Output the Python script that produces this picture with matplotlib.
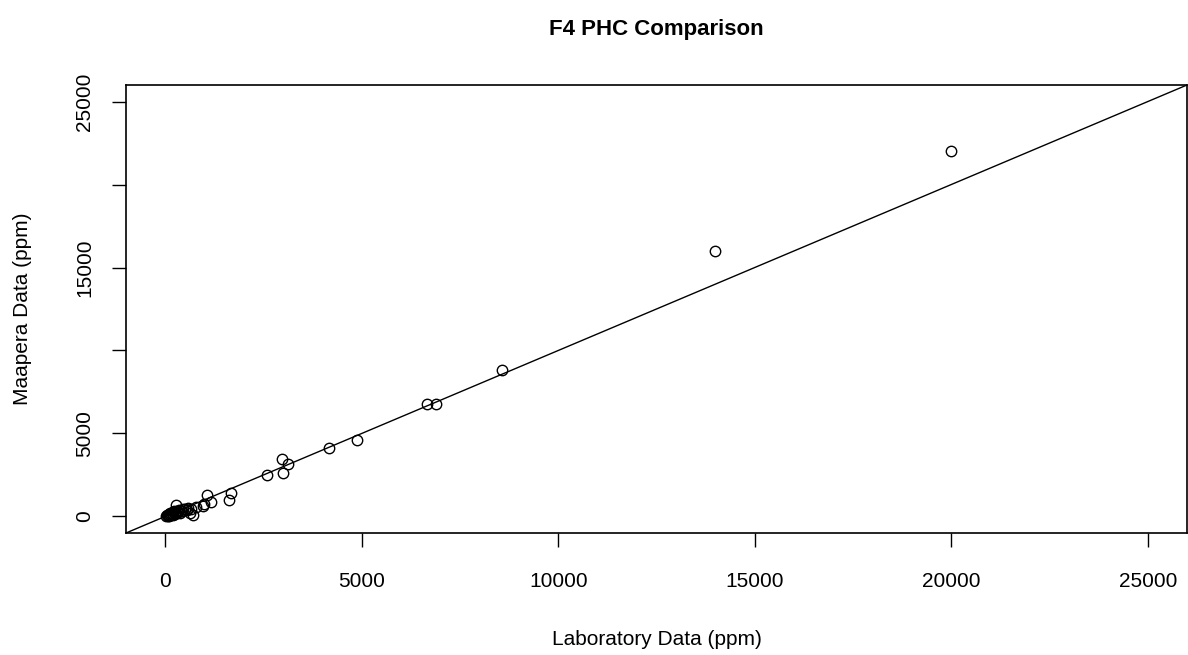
import matplotlib
matplotlib.use("Agg")
import matplotlib.pyplot as plt

plt.rcParams['font.family'] = ['Liberation Sans', 'DejaVu Sans']

title = "F4 PHC Comparison"
xlabel = "Laboratory Data (ppm)"
ylabel = "Maapera Data (ppm)"

lab = [30, 50, 60, 80, 90, 100, 120, 130, 150, 170, 190, 200, 220, 250, 260,
       280, 300, 320, 350, 380, 400, 430, 460, 500, 540, 580, 620, 660, 700,
       780, 950, 990, 1070, 1160, 1610, 1680, 2600, 2980, 3000, 3130, 4160,
       4880, 6660, 6890, 8560, 14000, 20000]
maapera = [20, 60, 40, 100, 30, 150, 80, 200, 120, 180, 60, 250, 300, 150, 700,
           220, 350, 280, 400, 200, 330, 300, 450, 420, 380, 500, 180, 450, 60,
           560, 600, 770, 1270, 870, 970, 1410, 2520, 3430, 2620, 3130, 4140,
           4600, 6780, 6780, 8830, 16000, 22000]

xticks = [0, 5000, 10000, 15000, 20000, 25000]
xticklabels = ["0", "5000", "10000", "15000", "20000", "25000"]
yticks = [0, 5000, 10000, 15000, 20000, 25000]
yticklabels = ["0", "5000", "", "15000", "", "25000"]

W, H = 1188, 655
fig = plt.figure(figsize=(W / 100, H / 100), dpi=100)
ax = fig.add_axes([126 / W, 1 - 533 / H, (1187 - 126) / W, (533 - 85) / H])

ax.plot(lab, maapera, linestyle='none', marker='o', markersize=7.5,
        markerfacecolor='none', markeredgecolor='black', markeredgewidth=1.0)
ax.axline((0, 0), slope=1, color='black', linewidth=1.0)

ax.set_xlim(-1000, 26000)
ax.set_ylim(-1000, 26000)
ax.set_xticks(xticks)
ax.set_xticklabels(xticklabels)
ax.set_yticks(yticks)
ax.set_yticklabels(yticklabels, rotation=90, va='center')
ax.tick_params(direction='out', length=10, width=1, labelsize=15,
               colors='black')
ax.tick_params(axis='x', pad=18)
ax.tick_params(axis='y', pad=13)
for s in ax.spines.values():
    s.set_linewidth(1.2)

ax.set_xlabel(xlabel, fontsize=15, labelpad=28)
ax.set_ylabel(ylabel, fontsize=15, labelpad=31)
fig.text((126 + 1187) / 2 / W, 1 - 30 / H, title, ha='center', va='center',
         fontsize=16, fontweight='bold')

fig.savefig("out.png", dpi=100)
